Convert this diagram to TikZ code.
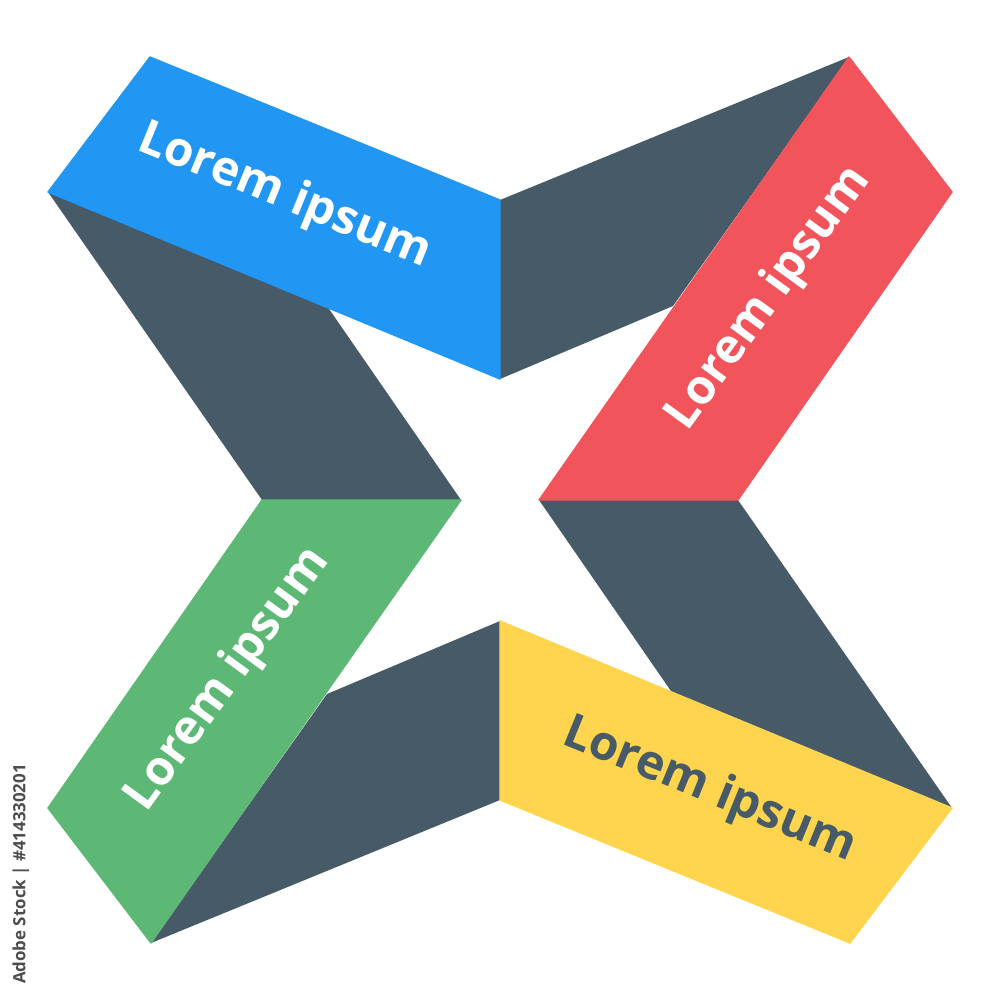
\documentclass[tikz,border=0pt]{standalone}
\usepackage{fontspec}
\setmainfont{Open Sans}
\definecolor{bandblue}{HTML}{2196F3}
\definecolor{bandred}{HTML}{F2545B}
\definecolor{bandgreen}{HTML}{5CB874}
\definecolor{bandyellow}{HTML}{FFD54F}
\definecolor{slate}{HTML}{475A67}
\begin{document}
\begin{tikzpicture}[x=0.01cm, y=-0.01cm,
    band/.style={fill=#1, draw=#1, line width=0.4pt, line join=round},
    bandtext/.style={font=\bfseries\fontsize{13.6}{16}\selectfont, text=white, anchor=base, inner sep=0pt}]
  \useasboundingbox (0,0) rectangle (1000,1000);

  % dark folds
  \fill[slate] (48,192) -- (327,306) -- (461,500) -- (262,500) -- cycle;
  \fill[slate] (500,200) -- (849,57) -- (673,306) -- (500,379) -- cycle;
  \fill[slate] (539,500) -- (738,500) -- (952,808) -- (673,694) -- cycle;
  \fill[slate] (500,800) -- (151,943) -- (327,694) -- (500,621) -- cycle;

  % coloured bands
  \path[band=bandblue] (150,57) -- (500,200) -- (500,379) -- (48,192) -- cycle;
  \path[band=bandred] (849,57) -- (952,192) -- (738,500) -- (539,500) -- cycle;
  \path[band=bandyellow] (500,621) -- (952,808) -- (850,943) -- (500,800) -- cycle;
  \path[band=bandgreen] (262,500) -- (461,500) -- (151,943) -- (48,808) -- cycle;

  % labels
  \node[bandtext, rotate=-22.2] (blue) at (280,208) {Lorem ipsum};
  \node[bandtext, rotate=54] (red) at (779,306) {Lorem ipsum};
  \node[bandtext, rotate=54] (green) at (238,687) {Lorem ipsum};
  \node[bandtext, rotate=-22.2, text=slate] (yellow) at (705,802) {Lorem ipsum};

  \node[rotate=90, font=\bfseries\fontsize{4.8}{6}\selectfont, text=black!70, inner sep=0pt] (stock) at (21,874) {Adobe Stock | \#414330201};
\end{tikzpicture}
\end{document}
